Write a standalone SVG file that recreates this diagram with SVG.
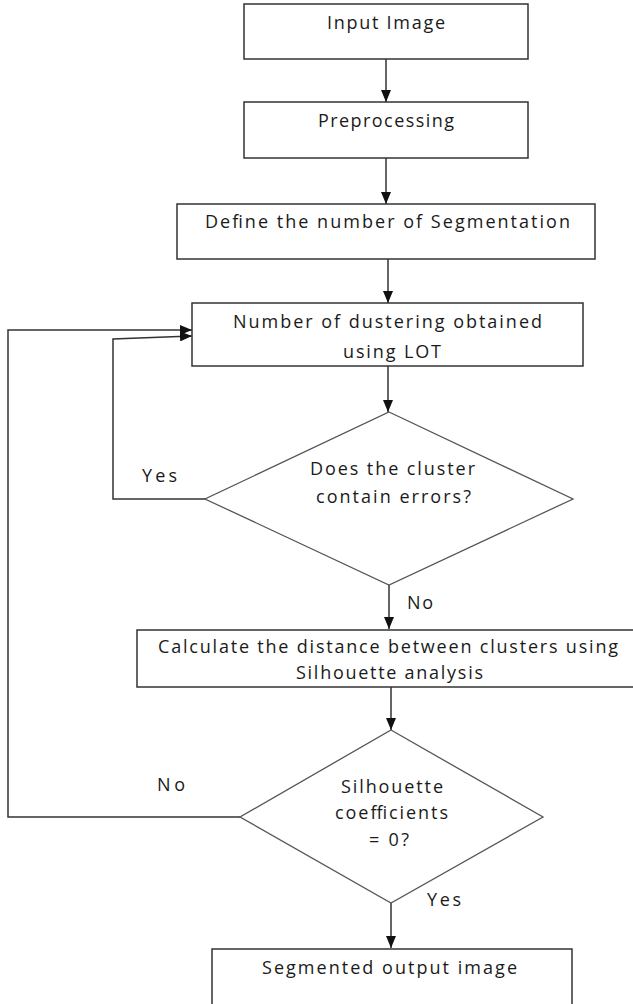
<svg xmlns="http://www.w3.org/2000/svg" width="633" height="1004" viewBox="0 0 633 1004">
<defs>
<marker id="ah" markerUnits="userSpaceOnUse" markerWidth="12" markerHeight="10" refX="12" refY="5" orient="auto">
<path d="M0,0 L12,5 L0,10 z" fill="#111"/>
</marker>
<style>
.box{fill:#fff;stroke:#333;stroke-width:1.5}
.dia{fill:#fff;stroke:#555;stroke-width:1.3}
.t{font-family:"Open Sans","Liberation Sans",sans-serif;font-size:18px;fill:#1a1a1a}
.m{text-anchor:middle}
.c{fill:none;stroke:#333;stroke-width:1.5}
</style>
</defs>
<rect width="633" height="1004" fill="#fff"/>
<g id="connectors">
<line class="c" x1="386" y1="59" x2="386" y2="102" marker-end="url(#ah)"/>
<line class="c" x1="386" y1="158" x2="386" y2="204" marker-end="url(#ah)"/>
<line class="c" x1="388" y1="259" x2="388" y2="303" marker-end="url(#ah)"/>
<line class="c" x1="388" y1="366" x2="388" y2="412" marker-end="url(#ah)"/>
<line class="c" x1="389" y1="585" x2="389" y2="629" marker-end="url(#ah)"/>
<line class="c" x1="391" y1="687" x2="391" y2="730" marker-end="url(#ah)"/>
<line class="c" x1="391" y1="903" x2="391" y2="948" marker-end="url(#ah)"/>
<polyline class="c" points="205,499 113,499 113,339 192,336" marker-end="url(#ah)"/>
<polyline class="c" points="240,817 8,817 8,330 192,330" marker-end="url(#ah)"/>
<text class="t" x="142" y="482" textLength="35">Yes</text>
<text class="t" x="407" y="609" textLength="26">No</text>
<text class="t" x="157" y="791" textLength="28">No</text>
<text class="t" x="427" y="906" textLength="34">Yes</text>
</g>
<g id="n1">
<rect class="box" x="244" y="4" width="284" height="55"/>
<text class="t m" x="386" y="29" textLength="118">Input Image</text>
</g>
<g id="n2">
<rect class="box" x="244" y="102" width="284" height="56"/>
<text class="t m" x="386" y="127" textLength="136">Preprocessing</text>
</g>
<g id="n3">
<rect class="box" x="177" y="204" width="418" height="55"/>
<text class="t" x="205" y="228" textLength="365">Define the number of Segmentation</text>
</g>
<g id="n4">
<rect class="box" x="192" y="303" width="391" height="63"/>
<text class="t" x="233" y="328" textLength="309">Number of dustering obtained</text>
<text class="t m" x="392" y="358" textLength="98">using LOT</text>
</g>
<g id="n5">
<polygon class="dia" points="389,412 573,499 389,585 205,499"/>
<text class="t" x="310" y="475" textLength="165">Does the cluster</text>
<text class="t" x="316" y="503" textLength="155">contain errors?</text>
</g>
<g id="n6">
<rect class="box" x="137" y="630" width="510" height="57"/>
<text class="t" x="158" y="653" textLength="460">Calculate the distance between clusters using</text>
<text class="t" x="296" y="679" textLength="187">Silhouette analysis</text>
</g>
<g id="n7">
<polygon class="dia" points="391,730 543,817 391,903 240,817"/>
<text class="t" x="341" y="793" textLength="102">Silhouette</text>
<text class="t" x="335" y="819" textLength="113">coefficients</text>
<text class="t" x="369" y="846" textLength="40">= 0?</text>
</g>
<g id="n8">
<rect class="box" x="212" y="949" width="360" height="70"/>
<text class="t" x="262" y="974" textLength="255">Segmented output image</text>
</g>
</svg>
